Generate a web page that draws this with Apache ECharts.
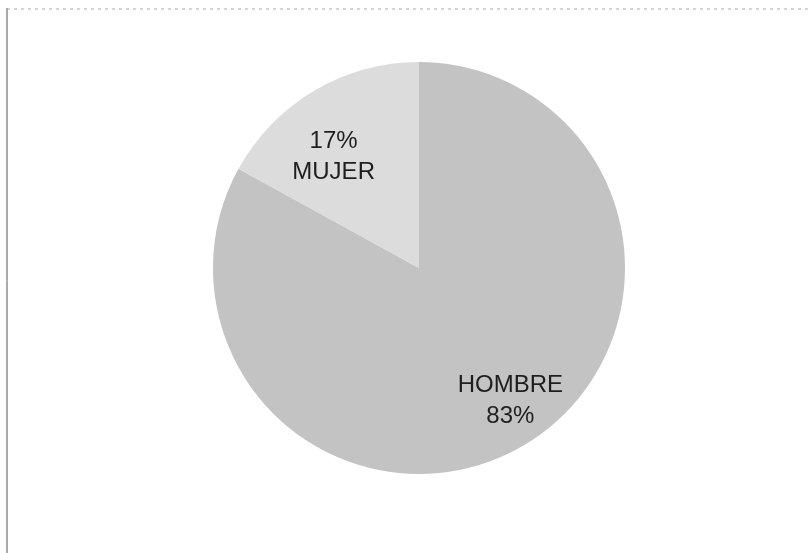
<!DOCTYPE html>
<html>
<head>
<meta charset="utf-8">
<script src="https://cdn.jsdelivr.net/npm/echarts@6/dist/echarts.min.js"></script>
<style>
  html, body { margin: 0; padding: 0; background: #fff; }
  #chart { width: 811px; height: 553px; }
</style>
</head>
<body>
<div id="chart"></div>
<script>
const categories = ["HOMBRE", "MUJER"]
const values = [83, 17]
const sliceColors = ["#c3c3c3", "#dcdcdc"]
// pequeño desplazamiento de cada etiqueta respecto a la bisectriz
const labelOffsets = [[14, 2], [-8, 20]]

const chart = echarts.init(document.getElementById("chart"))

const pieData = categories.map((name, i) => ({
  name: name,
  value: values[i],
  itemStyle: { color: sliceColors[i] }
}))

// etiquetas: MUJER lleva el porcentaje arriba, HOMBRE abajo
const labelText = (p) =>
  p.name === "MUJER" ? p.value + "%\n" + p.name : p.name + "\n" + p.value + "%"

const option = {
  animation: false,
  graphic: [
    { type: "line", shape: { x1: 7, y1: 8, x2: 7, y2: 553 }, style: { stroke: "#555", lineWidth: 1 } },
    { type: "line", shape: { x1: 7, y1: 9, x2: 811, y2: 9 }, style: { stroke: "#aaa", lineWidth: 1, lineDash: [3, 4] } }
  ],
  series: [
    {
      type: "pie",
      center: [419, 268],
      radius: [0, 206],
      startAngle: 90,
      clockwise: true,
      silent: true,
      label: { show: false },
      labelLine: { show: false },
      itemStyle: { borderWidth: 0 },
      data: pieData
    },
    {
      // serie transparente solo para colocar las etiquetas más afuera
      type: "pie",
      center: [419, 268],
      radius: [0, 298],
      startAngle: 90,
      clockwise: true,
      silent: true,
      itemStyle: { color: "rgba(0,0,0,0)", borderWidth: 0 },
      labelLine: { show: false },
      label: {
        show: true,
        position: "inside",
        formatter: labelText,
        color: "#1e1e1e",
        fontFamily: "Liberation Sans",
        fontSize: 24,
        lineHeight: 31
      },
      data: categories.map((name, i) => ({
        name: name,
        value: values[i],
        label: { offset: labelOffsets[i] }
      }))
    }
  ]
}

chart.setOption(option)
</script>
</body>
</html>
